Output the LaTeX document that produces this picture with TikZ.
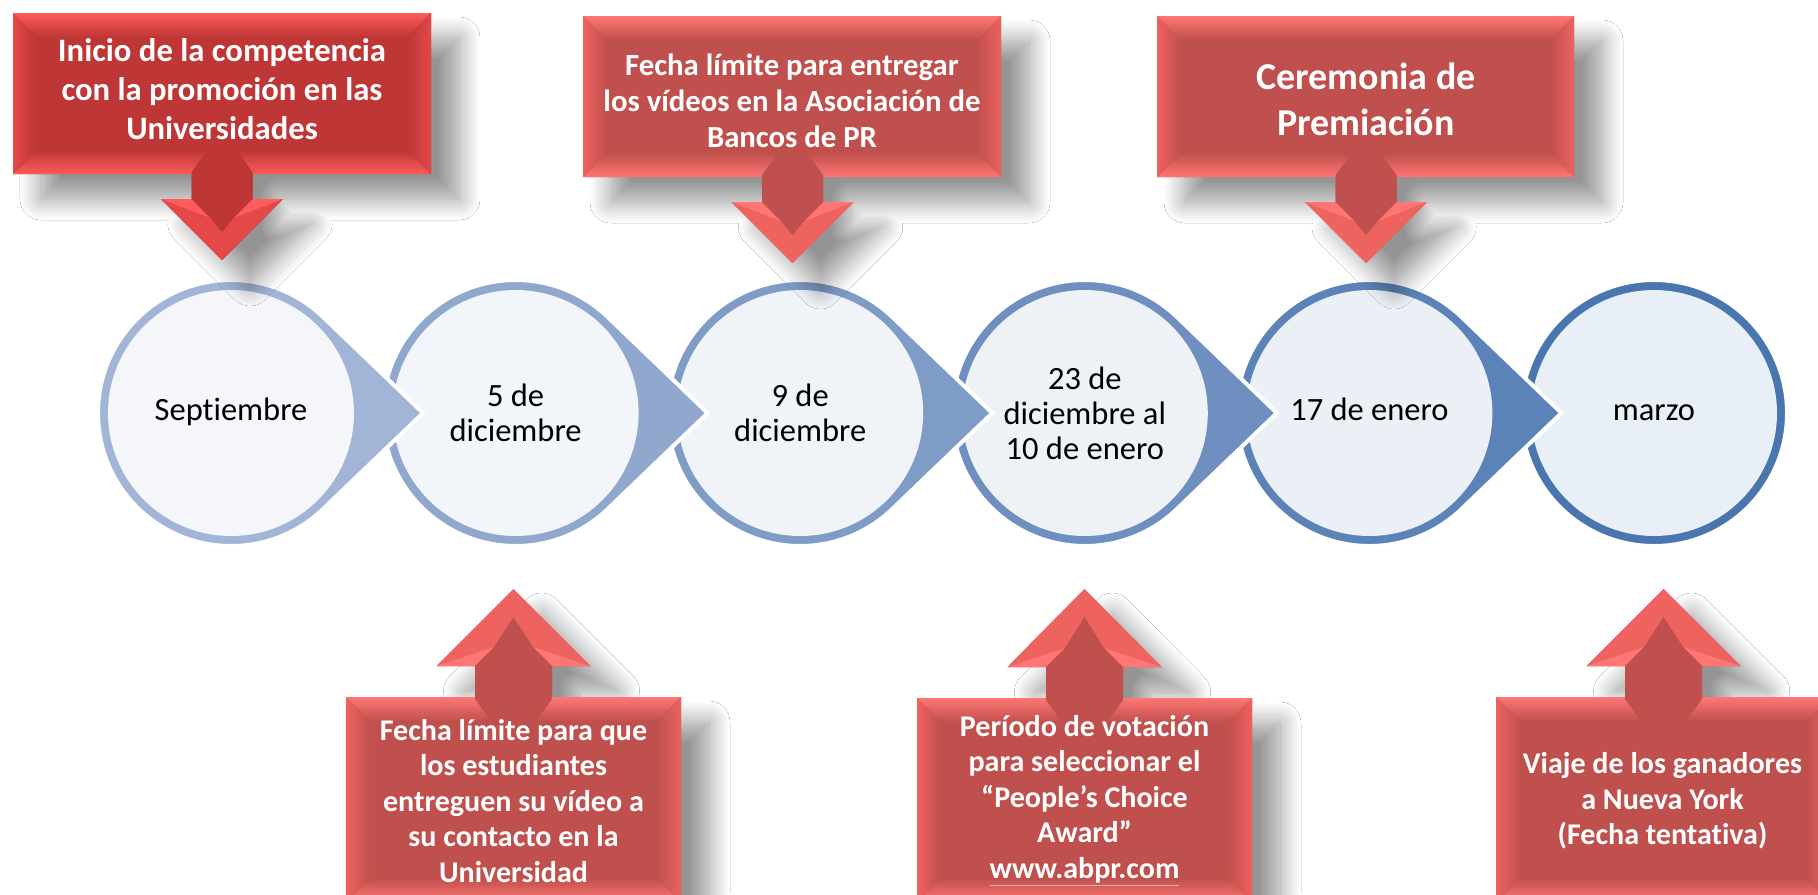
\documentclass[tikz,border=0pt]{standalone}
\usepackage{fontspec}
\setmainfont{Carlito}[Ligatures=NoCommon]
\usepackage{tikz}
\usetikzlibrary{calc,shadows.blur}
\usepackage{xcolor}
\definecolor{ringlo}{RGB}{163,181,214}
\definecolor{ringhi}{RGB}{74,118,176}
\colorlet{ring1}{ringhi!0!ringlo}
\colorlet{ring2}{ringhi!20!ringlo}
\colorlet{ring3}{ringhi!40!ringlo}
\colorlet{ring4}{ringhi!60!ringlo}
\colorlet{ring5}{ringhi!80!ringlo}
\colorlet{ring6}{ringhi!100!ringlo}
\colorlet{inner1}{ring1!12!white}
\colorlet{inner2}{ring2!12!white}
\colorlet{inner3}{ring3!12!white}
\colorlet{inner4}{ring4!12!white}
\colorlet{inner5}{ring5!12!white}
\colorlet{inner6}{ring6!12!white}
% red callouts: A = first one, B = the others
\definecolor{faceA}{RGB}{190,54,54}
\definecolor{lightA}{RGB}{255,92,92}
\definecolor{midA}{RGB}{228,72,72}
\definecolor{faceB}{RGB}{192,80,77}
\definecolor{lightB}{RGB}{255,118,116}
\definecolor{midB}{RGB}{238,98,96}

% #1 left, #2 right, #3 edge the arrow leaves, #4 far edge,
% #5 arrow x, #6 shaft half width, #7 head base, #8 tip, #9 colour set
\newcommand{\redcallout}[9]{%
  \pgfmathsetmacro\arrdir{sign(#8-#7)}%
  \pgfmathsetmacro\boxtop{min(#3,#4)}%
  \pgfmathsetmacro\boxbot{max(#3,#4)}%
  \pgfmathsetmacro\headhw{2*#6}%
  \fill[face#9, blur shadow={shadow xshift=0.56cm, shadow yshift=-0.5cm,
      shadow blur radius=0.42cm, shadow blur steps=16, shadow opacity=42}]
    (#1,#4) -- (#1,#3) -- (#5-#6,#3) -- (#5-#6,#7) -- (#5-\headhw,#7)
    -- (#5,#8) -- (#5+\headhw,#7) -- (#5+#6,#7) -- (#5+#6,#3)
    -- (#2,#3) -- (#2,#4) -- cycle;
  % bevel of the box
  \shade[top color=light#9, bottom color=face#9]
    (#1,\boxtop) -- (#2,\boxtop) -- (#2-24,\boxtop+24) -- (#1+24,\boxtop+24) -- cycle;
  \shade[top color=face#9, bottom color=light#9]
    (#1,\boxbot) -- (#2,\boxbot) -- (#2-24,\boxbot-24) -- (#1+24,\boxbot-24) -- cycle;
  \shade[left color=mid#9, right color=face#9]
    (#1,\boxtop) -- (#1+24,\boxtop+24) -- (#1+24,\boxbot-24) -- (#1,\boxbot) -- cycle;
  \shade[left color=face#9, right color=mid#9]
    (#2,\boxtop) -- (#2-24,\boxtop+24) -- (#2-24,\boxbot-24) -- (#2,\boxbot) -- cycle;
  % arrow head and shaft
  \fill[mid#9] (#5-\headhw,#7) -- (#5+\headhw,#7) -- (#5,#8) -- cycle;
  \fill[light#9] (#5-\headhw,#7) -- (#5-#6,#7) -- (#5-#6+19,#7+\arrdir*19) -- cycle;
  \fill[light#9] (#5+\headhw,#7) -- (#5+#6,#7) -- (#5+#6-19,#7+\arrdir*19) -- cycle;
  \fill[face#9] (#5-#6,#7) -- (#5+#6,#7) -- (#5+#6-19,#7+\arrdir*19)
    -- (#5,#8-\arrdir*28) -- (#5-#6+19,#7+\arrdir*19) -- cycle;
  \fill[face#9] (#5-#6,#7) -- (#5-#6,#3-\arrdir*2) -- (#5-#6+16,#3-\arrdir*24)
    -- (#5+#6-16,#3-\arrdir*24) -- (#5+#6,#3-\arrdir*2) -- (#5+#6,#7) -- cycle;
}

\begin{document}
\begin{tikzpicture}[x=0.02cm, y=-0.02cm,
  datecircle/.style={circle, minimum size=4.92cm, inner sep=0pt, align=center,
    text=black, font=\fontsize{18.5}{19.9}\selectfont},
  calltext/.style={text=white, align=center, inner sep=0pt},
  smalltext/.style={calltext, font=\bfseries\fontsize{17.1}{20.2}\selectfont}]
\useasboundingbox (0,0) rectangle (1818,894);
\clip (0,0) rectangle (1818,894);
\fill[white] (0,0) rectangle (1818,894);

% timeline, drawn from the right so each pointer lies over the next circle
\foreach \i/\cx/\txt in {6/1654/{\strut marzo}, 5/1369.4/{\strut 17 de enero},
    4/1084.8/{23 de\\diciembre al\\10 de enero}, 3/800.2/{9 de\\diciembre},
    2/515.6/{5 de\\diciembre}, 1/231/{\strut Septiembre}}{
  \ifnum\i<6
    \filldraw[fill=ring\i, draw=white, line width=0.08cm]
      (\cx+192,413) -- ({\cx+133*cos(46)},{413-133*sin(46)})
      arc[start angle=-46, end angle=-314, radius=133] -- cycle;
  \else
    \filldraw[fill=ring\i, draw=white, line width=0.08cm] (\cx,413) circle (133);
  \fi
  \node[datecircle, fill=inner\i] (d\i) at (\cx,413) {\txt};
}

% callouts
\redcallout{13}{431}{174}{13}{222}{30.5}{199}{260}{A}
\redcallout{583}{1001}{177}{16}{792.5}{30.5}{202}{263}{B}
\redcallout{1157}{1574}{177}{16}{1366}{30.5}{202}{263}{B}
\redcallout{346}{681}{697}{902}{513.5}{38.5}{666}{589}{B}
\redcallout{917}{1252}{698}{902}{1084.5}{38.5}{667}{589}{B}
\redcallout{1496}{1831}{697}{902}{1663.5}{38.5}{666}{589}{B}

\node[calltext, font=\bfseries\fontsize{18.6}{22.2}\selectfont] (inicio) at (222,89)
  {Inicio de la competencia\\con la promoción en las\\Universidades};
\node[calltext, font=\bfseries\fontsize{17.5}{20.5}\selectfont] (entrega) at (792,101)
  {Fecha límite para entregar\\los vídeos en la Asociación de\\Bancos de PR};
\node[calltext, font=\bfseries\fontsize{21.6}{26.2}\selectfont] (ceremonia) at (1366,99)
  {Ceremonia de\\Premiación};
\node[smalltext] (estudiantes) at (513.5,801)
  {Fecha límite para que\\los estudiantes\\entreguen su vídeo a\\su contacto en la\\Universidad};
\node[smalltext] (votacion) at (1084.5,801)
  {Período de votación\\para seleccionar el\\“People’s Choice\\Award”\\{\color{faceB!45!white}\underline{\color{white}www.abpr.com}}};
\node[smalltext] (viaje) at (1662.5,801)
  {Viaje de los ganadores\\a Nueva York\\(Fecha tentativa)};
\end{tikzpicture}
\end{document}
